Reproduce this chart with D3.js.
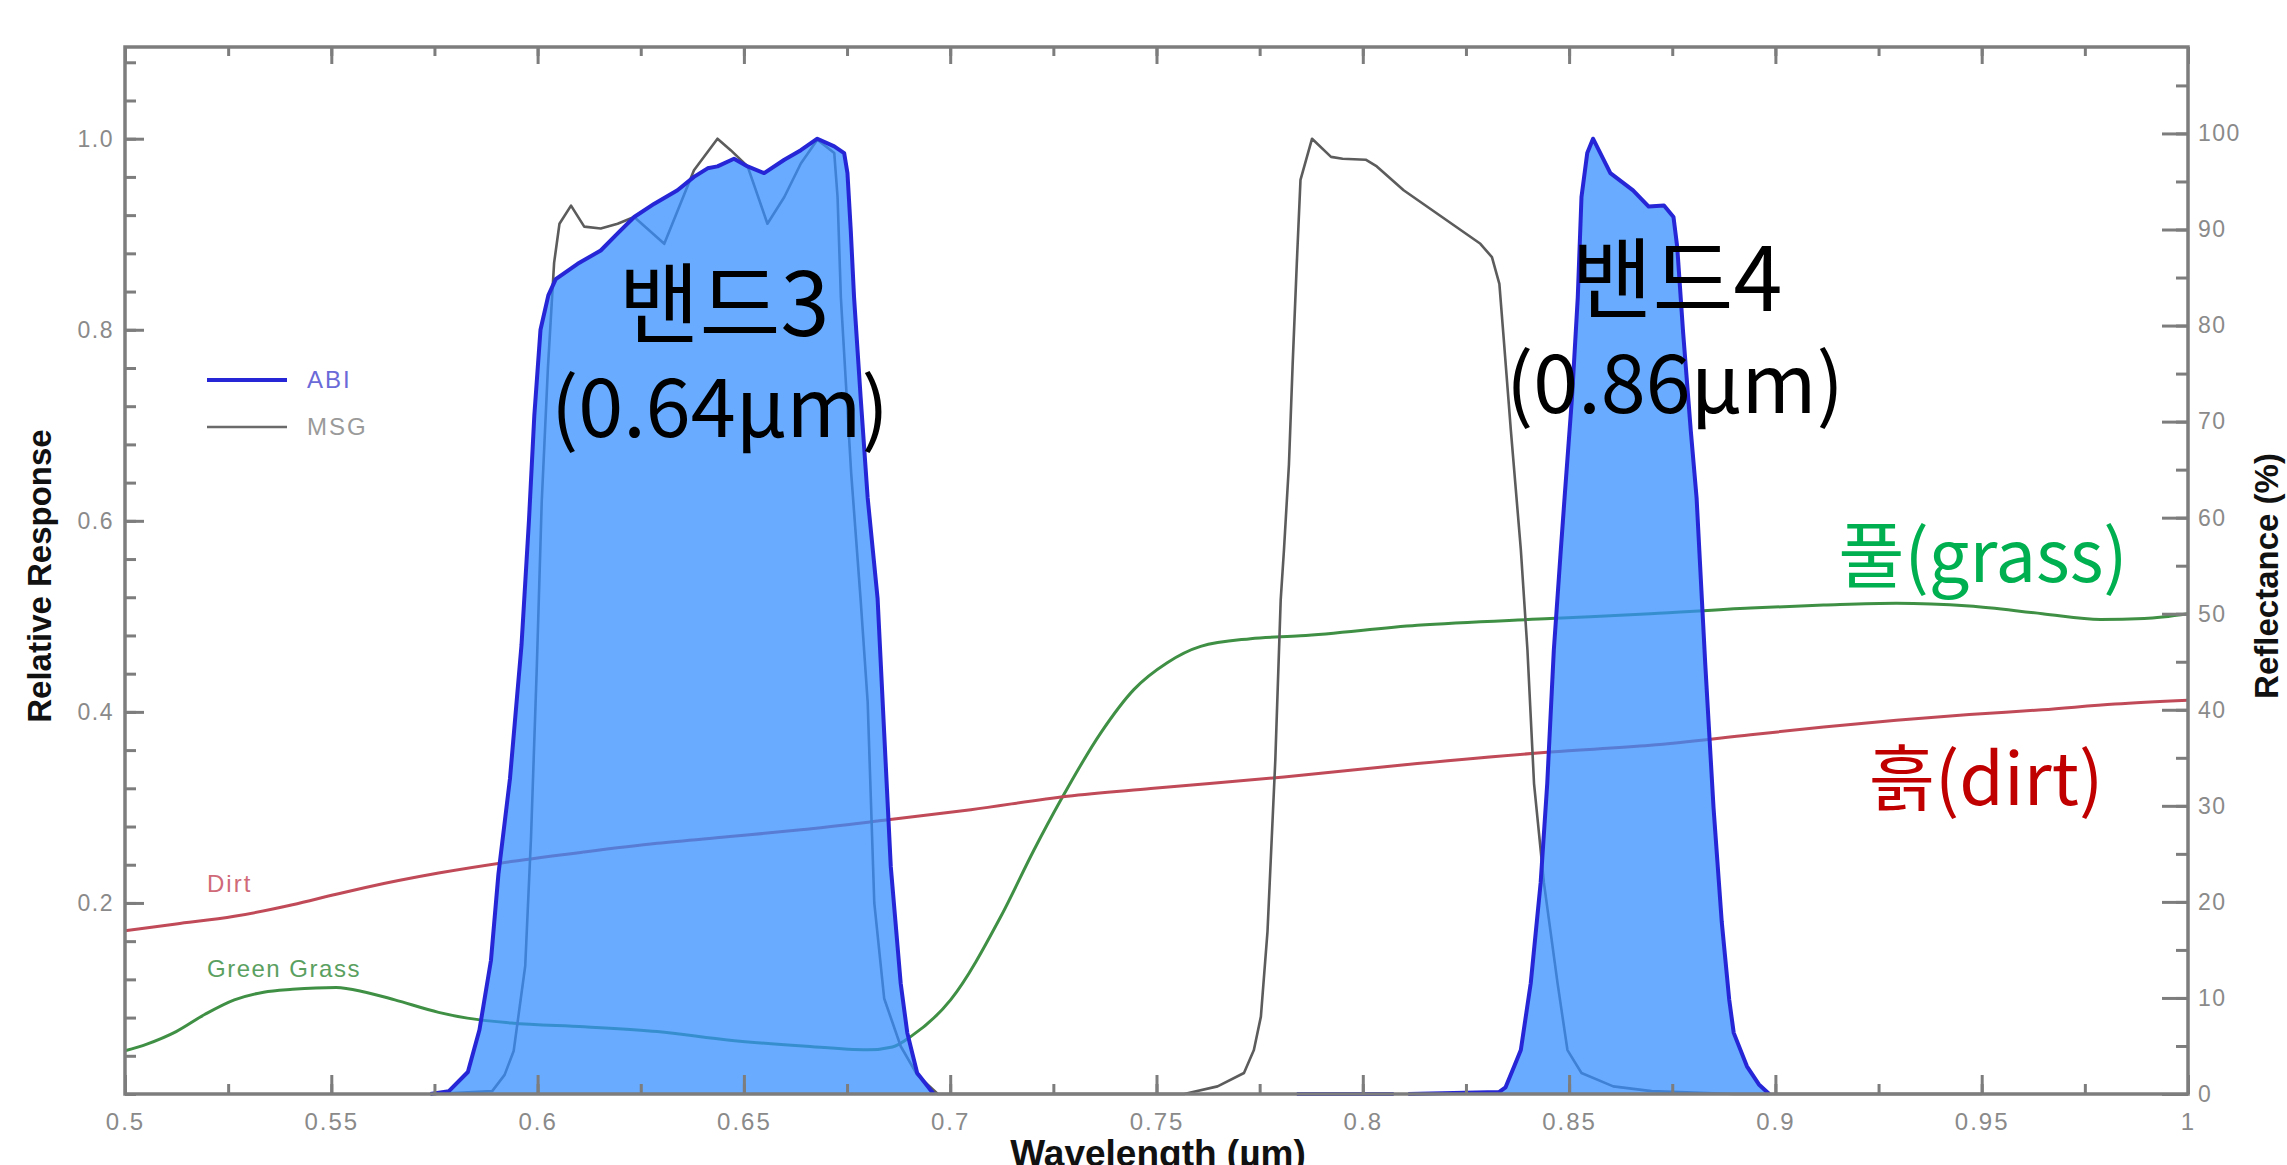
<!DOCTYPE html>
<html>
<head>
<meta charset="utf-8">
<script src="https://cdn.jsdelivr.net/npm/d3@7"></script>
<style>
  body { margin: 0; background: #fff; }
  svg { display: block; }
  .tick text { font-family: "Liberation Sans", Arial, sans-serif; fill: #8a8a8a; }
  .tick line { stroke: #7d7d7d; stroke-width: 3; }
</style>
</head>
<body>
<script>
// ABI / MSG relative spectral response: [wavelength um, response]
const abiBand3 = [
  [0.574, 0], [0.5785, 0.003], [0.5831, 0.023], [0.5859, 0.067], [0.5887, 0.14],
  [0.5905, 0.23], [0.5933, 0.33], [0.5961, 0.47], [0.5979, 0.6], [0.5992, 0.71],
  [0.6007, 0.8], [0.6026, 0.836], [0.6044, 0.853], [0.6097, 0.869], [0.6153, 0.883],
  [0.6194, 0.901], [0.6234, 0.918], [0.6283, 0.932], [0.6339, 0.946], [0.6379, 0.96],
  [0.6412, 0.969], [0.6436, 0.971], [0.6476, 0.979], [0.6509, 0.971], [0.6549, 0.964],
  [0.6598, 0.978], [0.6638, 0.988], [0.6678, 1.0], [0.6719, 0.992], [0.6743, 0.985],
  [0.6751, 0.964], [0.6759, 0.904], [0.6767, 0.834], [0.6783, 0.729], [0.68, 0.624],
  [0.6824, 0.519], [0.684, 0.378], [0.6856, 0.238], [0.688, 0.116], [0.6896, 0.064],
  [0.692, 0.022], [0.696, 0]
]
const abiZero = [[0.784, 0], [0.8075, 0]]
const abiBand4 = [
  [0.811, 0], [0.833, 0.002], [0.8346, 0.007], [0.8368, 0.03], [0.8383, 0.046],
  [0.8407, 0.116], [0.8431, 0.221], [0.8447, 0.325], [0.8463, 0.465], [0.848, 0.57],
  [0.8489, 0.624], [0.8507, 0.729], [0.8521, 0.834], [0.853, 0.939], [0.8544, 0.985],
  [0.8558, 1.0], [0.86, 0.964], [0.8655, 0.946], [0.8693, 0.929], [0.873, 0.93],
  [0.8753, 0.918], [0.8762, 0.887], [0.8776, 0.799], [0.8795, 0.694], [0.8809, 0.624],
  [0.883, 0.45], [0.885, 0.3], [0.887, 0.18], [0.8888, 0.099], [0.8899, 0.064],
  [0.8931, 0.029], [0.896, 0.01], [0.8985, 0]
]
const msgResp = [
  [0.575, 0], [0.589, 0.003], [0.592, 0.02], [0.5942, 0.045], [0.597, 0.134],
  [0.5984, 0.268], [0.5998, 0.446], [0.601, 0.62], [0.6025, 0.76], [0.604, 0.87],
  [0.6053, 0.911], [0.6081, 0.93], [0.6113, 0.908], [0.6153, 0.906], [0.6194, 0.911],
  [0.6234, 0.918], [0.6307, 0.89], [0.6379, 0.967], [0.6412, 0.986], [0.6436, 1.0],
  [0.6468, 0.988], [0.6509, 0.971], [0.6557, 0.911], [0.6598, 0.939], [0.6638, 0.974],
  [0.6678, 0.999], [0.6719, 0.985], [0.6727, 0.939], [0.6735, 0.834], [0.676, 0.65],
  [0.6783, 0.517], [0.68, 0.41], [0.6816, 0.2], [0.684, 0.1], [0.688, 0.05],
  [0.692, 0.02], [0.697, 0], [0.7567, 0], [0.7648, 0.008], [0.7712, 0.022],
  [0.7736, 0.046], [0.7753, 0.081], [0.7769, 0.17], [0.7788, 0.35], [0.7801, 0.517],
  [0.7809, 0.57], [0.7821, 0.659], [0.783, 0.764], [0.784, 0.869], [0.7849, 0.957],
  [0.7877, 1.0], [0.7923, 0.981], [0.7951, 0.979], [0.8007, 0.978], [0.8034, 0.971],
  [0.8099, 0.946], [0.8192, 0.918], [0.8285, 0.89], [0.8313, 0.876], [0.8331, 0.848],
  [0.834, 0.799], [0.8359, 0.694], [0.8383, 0.57], [0.8399, 0.465], [0.8415, 0.325],
  [0.8439, 0.221], [0.8472, 0.116], [0.8496, 0.046], [0.853, 0.022], [0.8607, 0.008],
  [0.87, 0.003], [0.89, 0], [0.95, 0]
]

// reflectance (%) on the right axis
const grassRefl = [
  [0.5, 4.5], [0.5053, 5.2], [0.5124, 6.5], [0.5194, 8.3], [0.5265, 9.8],
  [0.5336, 10.6], [0.5406, 10.9], [0.5512, 11.1], [0.5583, 10.6], [0.5654, 9.8],
  [0.576, 8.5], [0.583, 7.9], [0.5936, 7.4], [0.6113, 7.0], [0.629, 6.5],
  [0.6466, 5.6], [0.6643, 5.0], [0.68, 4.6], [0.686, 4.9], [0.6905, 6.0],
  [0.7001, 9.8], [0.7123, 18.5], [0.7203, 25.4], [0.7268, 30.6], [0.7365, 37.6],
  [0.7445, 42.1], [0.7526, 44.9], [0.7607, 46.6], [0.7728, 47.4], [0.7849, 47.7],
  [0.8132, 48.8], [0.8455, 49.5], [0.8697, 50.0], [0.894, 50.6], [0.9117, 50.9],
  [0.9293, 51.1], [0.947, 50.8], [0.9647, 50.0], [0.9788, 49.4], [0.9894, 49.5],
  [1.0, 50.0]
]
const dirtRefl = [
  [0.5, 17.0], [0.5124, 17.7], [0.5265, 18.5], [0.5406, 19.7], [0.5512, 20.8],
  [0.5583, 21.5], [0.576, 23.0], [0.5936, 24.2], [0.6113, 25.2], [0.629, 26.1],
  [0.6466, 26.8], [0.6638, 27.5], [0.684, 28.5], [0.705, 29.6], [0.7284, 31.0],
  [0.7486, 31.8], [0.7809, 33.0], [0.8132, 34.4], [0.8455, 35.6], [0.8697, 36.3],
  [0.894, 37.4], [0.9117, 38.2], [0.9293, 38.9], [0.947, 39.5], [0.9647, 40.0],
  [0.9823, 40.6], [1.0, 41.0]
]

// ticks
const xMajor = [0.5, 0.55, 0.6, 0.65, 0.7, 0.75, 0.8, 0.85, 0.9, 0.95, 1.0]
const xLabels = ['0.5', '0.55', '0.6', '0.65', '0.7', '0.75', '0.8', '0.85', '0.9', '0.95', '1']
const yLeftMajor = [0.2, 0.4, 0.6, 0.8, 1.0]
const yLeftLabels = ['0.2', '0.4', '0.6', '0.8', '1.0']
const yRightMajor = [0, 10, 20, 30, 40, 50, 60, 70, 80, 90, 100]

const W = 2287, H = 1165
const frame = {left: 125, right: 2188, top: 47, bottom: 1094}

const svg = d3.select('body').append('svg')
    .attr('width', W)
    .attr('height', H)
    .style('background', '#fff')

const xScale = d3.scaleLinear().domain([0.5, 1.0]).range([frame.left, frame.right])
const yLeft = d3.scaleLinear().domain([0, 1.096]).range([frame.bottom, frame.top])
const yRight = d3.scaleLinear().domain([0, 109]).range([frame.bottom, frame.top])

// reflectance curves go underneath the translucent band fill
const reflLine = d3.line()
    .x(d => xScale(d[0]))
    .y(d => yRight(d[1]))
    .curve(d3.curveMonotoneX)

svg.append('path').datum(grassRefl)
    .attr('fill', 'none').attr('stroke', '#3f8f45').attr('stroke-width', 3)
    .attr('d', reflLine)
svg.append('path').datum(dirtRefl)
    .attr('fill', 'none').attr('stroke', '#c04a58').attr('stroke-width', 3)
    .attr('d', reflLine)

const respLine = d3.line()
    .x(d => xScale(d[0]))
    .y(d => yLeft(d[1]))

svg.append('path').datum(msgResp)
    .attr('fill', 'none').attr('stroke', '#5c5c5c').attr('stroke-width', 2.6)
    .attr('stroke-linejoin', 'round')
    .attr('d', respLine)

const respArea = d3.area()
    .x(d => xScale(d[0]))
    .y0(yLeft(0))
    .y1(d => yLeft(d[1]))

;[abiBand3, abiBand4].forEach(band => {
    svg.append('path').datum(band)
        .attr('fill', 'rgb(51,142,255)')
        .attr('fill-opacity', 0.74)
        .attr('d', respArea)
})

;[abiBand3, abiZero, abiBand4].forEach(seg => {
    svg.append('path').datum(seg)
        .attr('fill', 'none').attr('stroke', '#2626d6').attr('stroke-width', 4)
        .attr('stroke-linejoin', 'round')
        .attr('d', respLine)
})

// axes, ticks point inward
function minorTicks(lo, hi, step) {
    return d3.range(Math.round((hi - lo) / step) + 1).map(i => +(lo + i * step).toFixed(4))
}
const xMinor = minorTicks(0.5, 1.0, 0.025)
const yLeftMinor = minorTicks(0, 1.08, 0.04)
const yRightMinor = minorTicks(0, 105, 5)

function styleAxis(g) {
    g.select('.domain').remove()
    g.selectAll('.tick line').attr('stroke', '#7d7d7d')
}

svg.append('g')
    .attr('transform', `translate(0,${frame.bottom})`)
    .call(d3.axisBottom(xScale).tickValues(xMinor).tickSize(-10).tickFormat(''))
    .call(styleAxis)
svg.append('g')
    .attr('transform', `translate(0,${frame.bottom})`)
    .call(d3.axisBottom(xScale).tickValues(xMajor).tickSize(-19).tickPadding(19)
        .tickFormat((d, i) => xLabels[i]))
    .call(styleAxis)
    .selectAll('text').style('font-size', '24px').attr('letter-spacing', 2)

svg.append('g')
    .attr('transform', `translate(0,${frame.top})`)
    .call(d3.axisTop(xScale).tickValues(xMinor).tickSize(-9).tickFormat(''))
    .call(styleAxis)
svg.append('g')
    .attr('transform', `translate(0,${frame.top})`)
    .call(d3.axisTop(xScale).tickValues(xMajor).tickSize(-17).tickFormat(''))
    .call(styleAxis)

svg.append('g')
    .attr('transform', `translate(${frame.left},0)`)
    .call(d3.axisLeft(yLeft).tickValues(yLeftMinor).tickSize(-11).tickFormat(''))
    .call(styleAxis)
svg.append('g')
    .attr('transform', `translate(${frame.left},0)`)
    .call(d3.axisLeft(yLeft).tickValues(yLeftMajor).tickSize(-19).tickPadding(11)
        .tickFormat((d, i) => yLeftLabels[i]))
    .call(styleAxis)
    .selectAll('text').style('font-size', '23px').attr('letter-spacing', 1.5)

svg.append('g')
    .attr('transform', `translate(${frame.right},0)`)
    .call(d3.axisRight(yRight).tickValues(yRightMinor).tickSize(-12).tickFormat(''))
    .call(styleAxis)
svg.append('g')
    .attr('transform', `translate(${frame.right},0)`)
    .call(d3.axisRight(yRight).tickValues(yRightMajor).tickSize(-26).tickPadding(10))
    .call(styleAxis)
    .selectAll('text').style('font-size', '23px').attr('letter-spacing', 1.5)

// frame
svg.append('rect')
    .attr('x', frame.left).attr('y', frame.top)
    .attr('width', frame.right - frame.left)
    .attr('height', frame.bottom - frame.top)
    .attr('fill', 'none').attr('stroke', '#7d7d7d').attr('stroke-width', 3.5)

// axis titles
const titleFont = '"Liberation Sans", Arial, sans-serif'
svg.append('text')
    .attr('transform', 'translate(51,576) rotate(-90)')
    .attr('text-anchor', 'middle')
    .style('font-family', titleFont).style('font-weight', 'bold').style('font-size', '33px')
    .attr('fill', '#111')
    .text('Relative Response')
svg.append('text')
    .attr('transform', 'translate(2278,576) rotate(-90)')
    .attr('text-anchor', 'middle')
    .style('font-family', titleFont).style('font-weight', 'bold').style('font-size', '33px')
    .attr('fill', '#111')
    .text('Reflectance (%)')
svg.append('text')
    .attr('x', 1158).attr('y', 1166)
    .attr('text-anchor', 'middle')
    .style('font-family', titleFont).style('font-weight', 'bold').style('font-size', '37px')
    .attr('fill', '#111')
    .text('Wavelength (\u00b5m)')

// legend
const smallFont = '"Liberation Sans", Arial, sans-serif'
const legend = [
    {name: 'ABI', stroke: '#2626d6', text: '#6a6ad8', width: 4, y: 380},
    {name: 'MSG', stroke: '#6a6a6a', text: '#9a9a9a', width: 2.6, y: 427}
]
legend.forEach(l => {
    svg.append('line')
        .attr('x1', 207).attr('x2', 287).attr('y1', l.y).attr('y2', l.y)
        .attr('stroke', l.stroke).attr('stroke-width', l.width)
    svg.append('text')
        .attr('x', 307).attr('y', l.y + 8)
        .style('font-family', smallFont).style('font-size', '24px')
        .attr('letter-spacing', 2)
        .attr('fill', l.text)
        .text(l.name)
})

// curve labels from the original figure
svg.append('text')
    .attr('x', 207).attr('y', 892)
    .style('font-family', smallFont).style('font-size', '24px').attr('letter-spacing', 2)
    .attr('fill', '#d06a78')
    .text('Dirt')
svg.append('text')
    .attr('x', 207).attr('y', 977)
    .style('font-family', smallFont).style('font-size', '24px').attr('letter-spacing', 1.5)
    .attr('fill', '#5aa060')
    .text('Green Grass')

// Korean annotations
const krFont = '"Noto Sans CJK KR", "Noto Sans", sans-serif'
const notes = [
    {text: '밴드3', x: 724, y: 336, color: '#000', size: 88},
    {text: '(0.64\u00b5m)', x: 720, y: 437, color: '#000', size: 81},
    {text: '밴드4', x: 1677, y: 311, color: '#000', size: 88},
    {text: '(0.86\u00b5m)', x: 1675, y: 413, color: '#000', size: 81},
    {text: '풀(grass)', x: 1983, y: 582, color: '#00b050', size: 72},
    {text: '흙(dirt)', x: 1986, y: 805, color: '#c00000', size: 72}
]
notes.forEach(n => {
    svg.append('text')
        .attr('x', n.x).attr('y', n.y)
        .attr('text-anchor', 'middle')
        .style('font-family', krFont).style('font-size', n.size + 'px')
        .attr('fill', n.color)
        .text(n.text)
})
</script>
</body>
</html>
